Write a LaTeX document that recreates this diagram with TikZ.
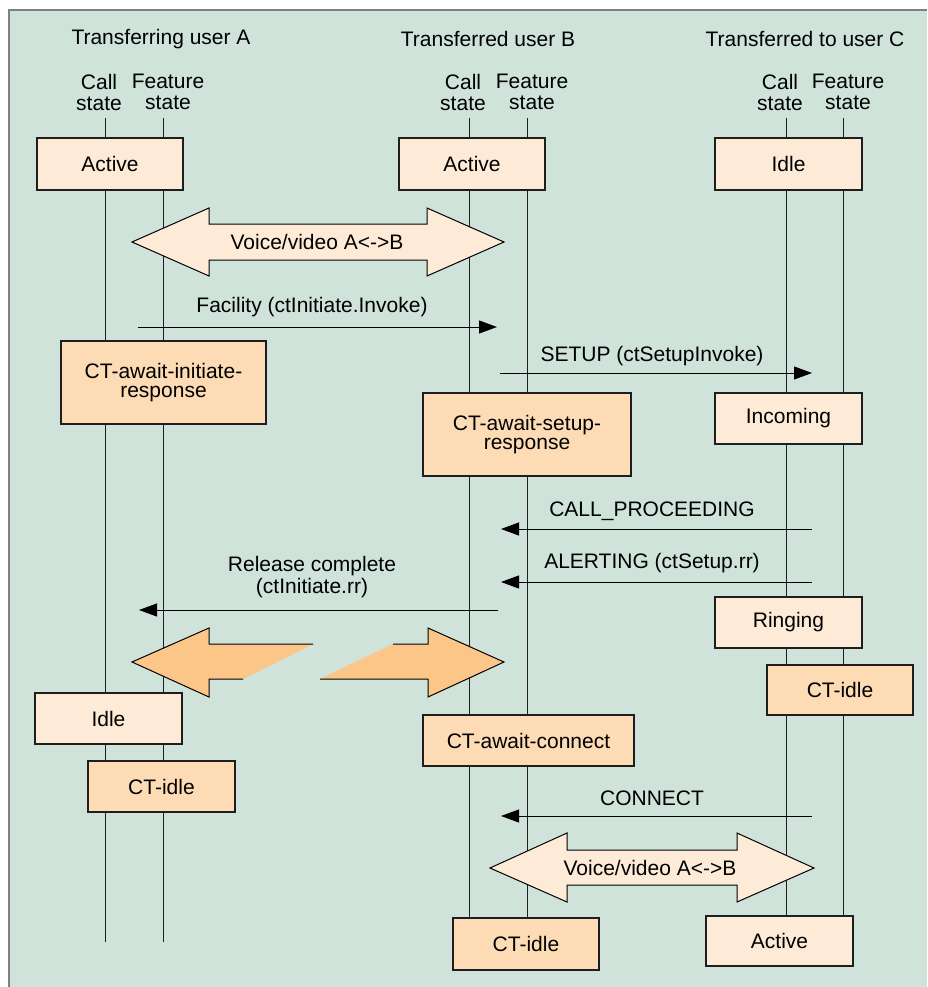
\documentclass[tikz,border=0pt]{standalone}
\usepackage{fontspec}
\setmainfont{Liberation Sans}
\usetikzlibrary{arrows.meta}

\definecolor{panel}{RGB}{207,227,218}
\definecolor{statelight}{RGB}{253,235,215}
\definecolor{statedark}{RGB}{253,219,180}
\definecolor{flowfill}{RGB}{253,198,137}
\definecolor{framegray}{RGB}{128,128,128}
\definecolor{ink}{RGB}{30,30,30}

\begin{document}
\begin{tikzpicture}[x=1pt,y=-1pt,
  font=\fontsize{21}{21}\selectfont,
  lifeline/.style={draw=ink, line width=1pt},
  callstate/.style={draw=ink, line width=1.2pt, fill=statelight, inner sep=0pt, align=center},
  featstate/.style={draw=ink, line width=1.2pt, fill=statedark, inner sep=0pt, align=center},
  msg/.style={draw=black, line width=1pt, -{Triangle[length=18pt,width=13pt]}},
  msglabel/.style={inner sep=0pt, align=center},
  media/.style={draw=black, line width=1pt, fill=statelight},
  flowpiece/.style={fill=flowfill, draw=none},
  flowedge/.style={draw=black, line width=1pt, line join=miter}]

\useasboundingbox (0,0) rectangle (927,987);

% panel with its frame on the top and left sides
\fill[white] (0,0) rectangle (927,987);
\fill[panel] (9,10) rectangle (927,987);
\draw[framegray, line width=2pt] (9,987) -- (9,10) -- (927,10);

% party headings
\node[msglabel] (hA) at (161,39) {Transferring user A};
\node[msglabel] (hB) at (488,39) {Transferred user B};
\node[msglabel] (hC) at (805,39) {Transferred to user C};

% column headings
\node[msglabel] (csA) at (99,92) {Call\\[0pt]state};
\node[msglabel] (fsA) at (168,92) {Feature\\[0pt]state};
\node[msglabel] (csB) at (463,92) {Call\\[0pt]state};
\node[msglabel] (fsB) at (532,92) {Feature\\[0pt]state};
\node[msglabel] (csC) at (780,92) {Call\\[0pt]state};
\node[msglabel] (fsC) at (848,92) {Feature\\[0pt]state};

% lifelines
\coordinate (lAc0) at (105,118); \coordinate (lAc1) at (105,942);
\coordinate (lAf0) at (163,118); \coordinate (lAf1) at (163,942);
\coordinate (lBc0) at (469,118); \coordinate (lBc1) at (469,930);
\coordinate (lBf0) at (527,118); \coordinate (lBf1) at (527,930);
\coordinate (lCc0) at (786,118); \coordinate (lCc1) at (786,930);
\coordinate (lCf0) at (843,118); \coordinate (lCf1) at (843,930);
\draw[lifeline] (lAc0) -- (lAc1);
\draw[lifeline] (lAf0) -- (lAf1);
\draw[lifeline] (lBc0) -- (lBc1);
\draw[lifeline] (lBf0) -- (lBf1);
\draw[lifeline] (lCc0) -- (lCc1);
\draw[lifeline] (lCf0) -- (lCf1);

% initial states
\node[callstate, minimum width=146pt, minimum height=52pt] (actA) at (110,164) {Active};
\node[callstate, minimum width=146pt, minimum height=52pt] (actB) at (472,164) {Active};
\node[callstate, minimum width=147pt, minimum height=52pt] (idleC) at (788.5,164) {Idle};

% media path A <-> B
\filldraw[media] (132,242) -- (209,208) -- (209,224) -- (427,224) -- (427,208)
  -- (504,242) -- (427,276) -- (427,260) -- (209,260) -- (209,276) -- cycle;
\node[msglabel] (vv1) at (317,242) {Voice/video A<->B};

% Facility
\coordinate (facS) at (138,327); \coordinate (facE) at (497,327);
\draw[msg] (facS) -- (facE);
\node[msglabel] (facL) at (312,307) {Facility (ctInitiate.Invoke)};

\node[featstate, minimum width=205pt, minimum height=83pt] (ctInitA) at (163.5,382.5)
  {CT-await-initiate-\\[-2pt]response};

% SETUP
\coordinate (setS) at (500,373); \coordinate (setE) at (812,373);
\draw[msg] (setS) -- (setE);
\node[msglabel] (setL) at (652,356) {SETUP (ctSetupInvoke)};

\node[featstate, minimum width=208pt, minimum height=83pt] (ctSetB) at (527,434.5)
  {CT-await-setup-\\[-2pt]response};
\node[callstate, minimum width=147pt, minimum height=51pt] (incC) at (788.5,418.5) {Incoming};

% CALL_PROCEEDING
\coordinate (cpS) at (812,529); \coordinate (cpE) at (501,529);
\draw[msg] (cpS) -- (cpE);
\node[msglabel] (cpL) at (652,511) {CALL\_PROCEEDING};

% ALERTING
\coordinate (alS) at (812,582); \coordinate (alE) at (501,582);
\draw[msg] (alS) -- (alE);
\node[msglabel] (alL) at (652,563) {ALERTING (ctSetup.rr)};

% Release complete
\coordinate (rcS) at (498,610); \coordinate (rcE) at (139,610);
\draw[msg] (rcS) -- (rcE);
\node[msglabel] (rcL) at (312,577) {Release complete\\[1pt](ctInitiate.rr)};

\node[callstate, minimum width=147pt, minimum height=51pt] (ringC) at (788.5,622.5) {Ringing};

% media path A <-> B cut off
\fill[flowpiece] (313,644) -- (209,644) -- (209,628) -- (132,662) -- (209,697)
  -- (209,679) -- (243,679) -- cycle;
\draw[flowedge] (313,644) -- (209,644) -- (209,628) -- (132,662) -- (209,697)
  -- (209,679) -- (243,679);
\fill[flowpiece] (320,679) -- (428,679) -- (428,697) -- (504,662) -- (428,628)
  -- (428,644) -- (393,644) -- cycle;
\draw[flowedge] (393,644) -- (428,644) -- (428,628) -- (504,662) -- (428,697)
  -- (428,679) -- (320,679);

\node[featstate, minimum width=146pt, minimum height=50pt] (ctIdleC) at (840,690) {CT-idle};
\node[callstate, minimum width=147pt, minimum height=51pt] (idleA) at (108.5,718.5) {Idle};
\node[featstate, minimum width=211pt, minimum height=51pt] (ctConB) at (528.5,740.5) {CT-await-connect};
\node[featstate, minimum width=147pt, minimum height=51pt] (ctIdleA) at (161.5,786.5) {CT-idle};

% CONNECT
\coordinate (coS) at (812,816); \coordinate (coE) at (501,816);
\draw[msg] (coS) -- (coE);
\node[msglabel] (coL) at (652,798) {CONNECT};

% media path after the transfer
\filldraw[media] (490,868) -- (567,833) -- (567,850) -- (737,850) -- (737,833)
  -- (814,868) -- (737,902) -- (737,885) -- (567,885) -- (567,902) -- cycle;
\node[msglabel] (vv2) at (650,868) {Voice/video A<->B};

% final states
\node[featstate, minimum width=146pt, minimum height=52pt] (ctIdleB) at (526,944) {CT-idle};
\node[callstate, minimum width=147pt, minimum height=50pt] (actC) at (779.5,941) {Active};

\end{tikzpicture}
\end{document}
